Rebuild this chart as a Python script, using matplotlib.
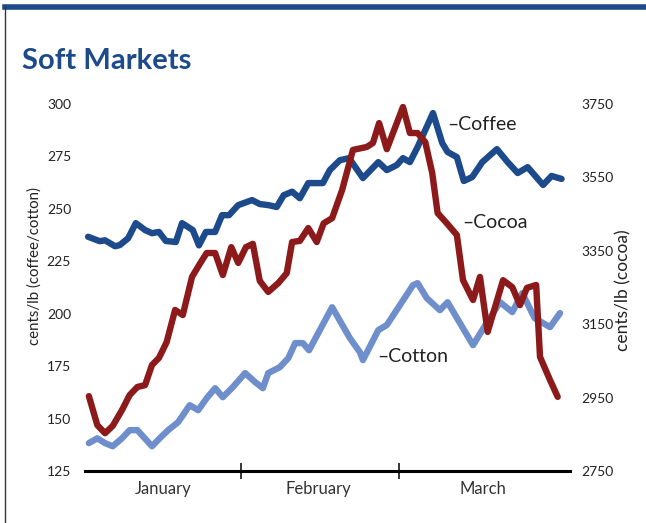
import matplotlib
matplotlib.use("Agg")
import matplotlib.pyplot as plt
from matplotlib.lines import Line2D

plt.rcParams['font.family'] = ['Lato', 'DejaVu Sans']

# trading-day position (0 = start of January) and closing levels
coffee_day = [0.4, 1.9, 2.6, 3.9, 4.5, 5.6, 6.6, 7.8, 8.7, 9.6, 10.5, 11.8, 12.6, 14.0,
              14.8, 15.7, 16.9, 17.8, 18.7, 19.9, 21.7, 22.7, 23.8, 24.9, 25.8, 26.9,
              27.9, 29.0, 30.9, 31.8, 33.1, 34.3, 36.1, 38.1, 39.2, 40.5, 41.3, 42.2,
              43.2, 45.2, 46.4, 47.1, 48.3, 49.2, 50.3, 51.6, 53.5, 54.9, 56.2, 57.5,
              59.5, 60.6, 61.9]
coffee = [236.7, 234.6, 235.0, 232.2, 232.7, 236.0, 243.2, 239.9, 238.4, 239.0, 234.7,
          234.2, 243.2, 239.9, 232.6, 239.0, 239.0, 247.0, 247.0, 251.8, 254.2, 252.3,
          251.8, 250.9, 256.5, 258.2, 255.1, 262.3, 262.3, 268.5, 273.2, 274.2, 264.7,
          272.3, 268.5, 270.9, 274.2, 272.3, 279.5, 295.7, 281.4, 277.1, 274.7, 263.3,
          265.2, 272.3, 278.5, 272.3, 267.1, 269.9, 261.4, 265.7, 264.3]

cocoa_day = [0.5, 1.6, 2.6, 3.6, 4.8, 5.8, 6.8, 7.8, 8.7, 9.6, 10.6, 11.7, 12.7, 13.9,
             14.9, 15.8, 16.9, 17.9, 19.0, 19.9, 20.9, 21.8, 22.7, 23.8, 25.1, 26.2,
             26.9, 27.9, 29.0, 30.1, 31.0, 32.1, 33.4, 34.8, 36.6, 37.4, 38.2, 39.2,
             41.3, 42.2, 43.2, 44.2, 45.1, 45.8, 47.0, 48.3, 49.1, 50.4, 51.3, 52.3,
             54.3, 55.5, 56.5, 57.4, 58.6, 59.1, 60.4, 61.4]
cocoa = [2954, 2875, 2853, 2873, 2916, 2957, 2979, 2984, 3039, 3058, 3101, 3189, 3175,
         3279, 3314, 3344, 3344, 3284, 3360, 3317, 3360, 3369, 3268, 3238, 3262, 3289,
         3374, 3377, 3412, 3374, 3425, 3439, 3516, 3625, 3633, 3644, 3698, 3627, 3742,
         3671, 3671, 3646, 3562, 3453, 3425, 3393, 3270, 3216, 3279, 3129, 3270, 3251,
         3202, 3249, 3257, 3061, 2998, 2952]

cotton_day = [0.5, 1.6, 2.6, 3.6, 4.8, 5.8, 6.8, 8.7, 9.7, 10.8, 12.1, 13.6, 14.7, 15.8,
              16.9, 17.9, 19.2, 20.8, 22.1, 23.1, 23.8, 25.3, 26.4, 27.3, 28.3, 29.1,
              32.1, 34.4, 35.7, 36.1, 38.1, 39.2, 42.6, 43.2, 44.4, 46.1, 47.1, 50.4,
              51.6, 53.9, 55.5, 56.8, 58.4, 60.4, 61.7]
cotton = [138.3, 140.6, 138.3, 136.8, 140.6, 144.5, 144.5, 136.8, 140.6, 144.5, 148.3,
          156.4, 154.0, 159.7, 164.5, 160.2, 165.0, 171.7, 167.4, 164.5, 171.7, 174.5,
          178.8, 186.0, 186.0, 182.6, 203.1, 188.4, 181.7, 177.9, 192.2, 194.6, 213.6,
          214.6, 207.4, 201.7, 205.5, 185.0, 192.2, 205.5, 200.8, 209.8, 197.9, 193.6,
          200.3]

months = ['January', 'February', 'March']
month_mid = [10.2, 30.3, 51.7]
month_edges = [20.3, 40.8]
left_ticks = [125, 150, 175, 200, 225, 250, 275, 300]
right_ticks = [2750, 2950, 3150, 3350, 3550, 3750]

NAVY = '#1c4a8b'
RED = '#8c1a1b'
LIGHT = '#6e8fcb'
TXT = '#222222'

fig = plt.figure(figsize=(6.46, 5.23), dpi=100)
ax = fig.add_axes([0.1316, 0.0994, 0.7508, 0.7017])
ax2 = ax.twinx()

lw = 4.6
style = dict(lw=lw, solid_capstyle='round', solid_joinstyle='round')
ax.plot(coffee_day, coffee, color=NAVY, **style)
ax.plot(cotton_day, cotton, color=LIGHT, **style)
ax2.plot(cocoa_day, cocoa, color=RED, **style)

ax.set_xlim(0, 63)
ax.set_ylim(125, 300)
ax2.set_ylim(2750, 3750)

for a in (ax, ax2):
    for s in a.spines.values():
        s.set_visible(False)
ax.spines['bottom'].set_visible(True)
ax.spines['bottom'].set_linewidth(2.2)
ax.spines['bottom'].set_color('black')

ax.set_xticks(month_edges)
ax.set_xticklabels([])
ax.tick_params(axis='x', direction='inout', length=11, width=1.1, color='black')
ax.set_xticks(month_mid, minor=True)
ax.set_xticklabels(months, minor=True)
ax.tick_params(axis='x', which='minor', length=0, pad=7, labelsize=12, labelcolor='#333333')

ax.set_yticks(left_ticks)
ax.set_yticklabels([str(t) for t in left_ticks])
ax.tick_params(axis='y', length=0, pad=10, labelsize=10, labelcolor=TXT)
ax2.set_yticks(right_ticks)
ax2.set_yticklabels([str(t) for t in right_ticks])
ax2.tick_params(axis='y', length=0, pad=8, labelsize=10, labelcolor=TXT)

# series names next to the lines
ax.text(47.0, 290.0, '–Coffee', fontsize=14, color=TXT, va='center', ha='left')
ax2.text(49.0, 3428, '–Cocoa', fontsize=14, color=TXT, va='center', ha='left')
ax.text(37.9, 179.8, '–Cotton', fontsize=14, color=TXT, va='center', ha='left')

fig.text(35 / 646, 1 - 266 / 523, 'cents/lb (coffee/cotton)', rotation=90,
         ha='center', va='center', fontsize=10.8, color=TXT)
fig.text(623 / 646, 1 - 290 / 523, 'cents/lb (cocoa)', rotation=90,
         ha='center', va='center', fontsize=12.5, color=TXT)

fig.text(22 / 646, 1 - 61 / 523, 'Soft Markets', fontsize=21, fontweight='bold',
         color=NAVY, ha='left', va='center')

# frame: blue band on top, thin rule on the left
fig.add_artist(Line2D([5 / 646, 1], [1 - 6.5 / 523] * 2, color=NAVY, lw=4, transform=fig.transFigure))
fig.add_artist(Line2D([5 / 646] * 2, [0, 1 - 6.5 / 523], color='#333333', lw=1, transform=fig.transFigure))

fig.savefig('out.png', dpi=100)
